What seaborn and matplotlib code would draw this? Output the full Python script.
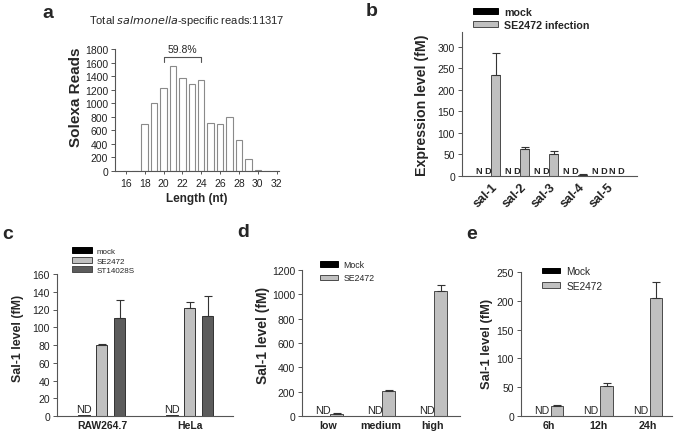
import matplotlib
matplotlib.use("Agg")
import matplotlib.pyplot as plt
from matplotlib.patches import Patch
import seaborn as sns
import pandas as pd
import numpy as np

sns.set_style("white")
plt.rcParams['font.family'] = ['Liberation Sans', 'DejaVu Sans']

# ---------------- data ----------------
a_lengths = [str(v) for v in range(16, 33)]
a_reads = [0, 0, 690, 1000, 1230, 1550, 1370, 1280, 1340, 710, 690, 800, 460, 180, 15, 0, 0]
a_ticks = ["16", "18", "20", "22", "24", "26", "28", "30", "32"]

b_genes = ["sal-1", "sal-2", "sal-3", "sal-4", "sal-5"]
b_mock = [0, 0, 0, 0, 0]
b_se = [235, 62, 52, 3, 0]
b_se_err = [50, 6, 5, 1.5, 0]

c_cells = ["RAW264.7", "HeLa"]
c_mock = [1, 1]
c_se = [80, 122]
c_se_err = [1, 6]
c_st = [110, 113]
c_st_err = [21, 22]

d_dose = ["low", "medium", "high"]
d_mock = [0, 0, 0]
d_se = [20, 205, 1030]
d_se_err = [5, 5, 50]

e_time = ["6h", "12h", "24h"]
e_mock = [0, 0, 0]
e_se = [18, 52, 205]
e_se_err = [1, 5, 28]

MOCK_C = "#000000"
SE_C = "#c0c0c0"
ST_C = "#5c5c5c"
EDGE = "#4a4a4a"
AXC = "#555555"

W, H = 675, 439
fig = plt.figure(figsize=(W / 100, H / 100), dpi=100)


def ax_px(l, t, r, b):
    return fig.add_axes([l / W, 1 - b / H, (r - l) / W, (b - t) / H])


def style(ax, ysize=7.5):
    for s in ["top", "right"]:
        ax.spines[s].set_visible(False)
    for s in ["left", "bottom"]:
        ax.spines[s].set_color(AXC)
        ax.spines[s].set_linewidth(0.8)
    ax.tick_params(axis="y", length=3, width=0.7, color=AXC, labelsize=ysize, pad=2,
                   left=True, labelcolor="#222222")
    ax.tick_params(axis="x", length=0, pad=3, labelcolor="#222222")
    ax.grid(False)


def ylabel_at(ax, text, fs, xpix, ypix, left_px, top_px, width_px, height_px):
    # xpix: right edge of the rotated label (in figure pixels); ypix: its centre
    ax.set_ylabel(text, fontsize=fs, fontweight="bold")
    ax.yaxis.set_label_coords((xpix - left_px) / width_px, 1 - (ypix - top_px) / height_px)


def add_err(ax, container, err, color="#333333"):
    xs = [p.get_x() + p.get_width() / 2 for p in container]
    ys = [p.get_height() for p in container]
    errs = np.array(err, dtype=float)
    mask = errs > 0
    ax.errorbar(np.array(xs)[mask], np.array(ys)[mask],
                yerr=[np.zeros(mask.sum()), errs[mask]],
                fmt="none", ecolor=color, elinewidth=0.8, capsize=3.2, capthick=0.8)


def fig_legend(labels, colors, x, y, fs, bold=False, hl=2.0, hh=0.6, ls=0.25, edge=EDGE):
    handles = [Patch(facecolor=c, edgecolor=edge if c != MOCK_C else MOCK_C, linewidth=0.7) for c in colors]
    leg = fig.legend(handles, labels, loc="upper left", bbox_to_anchor=(x / W, 1 - y / H),
                     frameon=False, borderpad=0, borderaxespad=0, handlelength=hl, handleheight=hh,
                     handletextpad=0.6, labelspacing=ls,
                     prop={"size": fs, "weight": "bold" if bold else "normal"})
    return leg


def panel_letter(ch, x, y):
    fig.text(x / W, 1 - y / H, ch, fontsize=14, fontweight="bold", ha="center", va="center")


# ---------------- panel a ----------------
axa = ax_px(115, 50, 279, 172)
dfa = pd.DataFrame({"Length": a_lengths, "Reads": a_reads})
sns.barplot(data=dfa, x="Length", y="Reads", order=a_lengths, color="white",
            edgecolor="#8a8a8a", linewidth=0.8, width=0.68, ax=axa)
style(axa)
axa.set_ylim(0, 1800)
axa.set_yticks(range(0, 1801, 200))
axa.set_xlim(-1.15, 16.25)
axa.set_xticks([a_lengths.index(t) for t in a_ticks])
axa.set_xticklabels(a_ticks, fontsize=7.5)
axa.tick_params(axis="x", length=2, width=0.7, color=AXC, bottom=True)
axa.set_xlabel("Length (nt)", fontsize=8.5, fontweight="bold", labelpad=3)
ylabel_at(axa, "Solexa Reads", 11, 83, 97, 115, 50, 164, 122)
i20, i24 = a_lengths.index("20"), a_lengths.index("24")
axa.plot([i20, i20, i24, i24], [1610, 1680, 1680, 1610], color="#555555", lw=0.8)
axa.text((i20 + i24) / 2, 1720, "59.8%", ha="center", va="bottom", fontsize=7.5)
fig.text(187 / W, 1 - 21 / H, "Total $\\it{salmonella}$-specific reads:11317",
         ha="center", va="center", fontsize=8)
panel_letter("a", 48, 13)

# ---------------- panel b ----------------
axb = ax_px(462, 33, 637, 177)
dfb = pd.DataFrame({"gene": b_genes * 2, "val": b_mock + b_se,
                    "grp": ["mock"] * 5 + ["SE2472 infection"] * 5})
sns.barplot(data=dfb, x="gene", y="val", hue="grp", palette=[MOCK_C, SE_C],
            edgecolor=EDGE, linewidth=0.7, width=0.62, legend=False, ax=axb)
style(axb)
axb.set_ylim(0, 334)
axb.set_yticks(range(0, 301, 50))
axb.set_xlim(-1.0, 5.03)
axb.set_xlabel("")
ylabel_at(axb, "Expression level (fM)", 10.2, 429, 105, 462, 33, 175, 144)
axb.set_xticks(range(len(b_genes)))
axb.set_xticklabels(b_genes, rotation=45, ha="right", rotation_mode="anchor",
                    fontsize=9, fontweight="bold")
add_err(axb, axb.containers[1], b_se_err)
for i, p in enumerate(axb.containers[0]):
    axb.text(i + 0.02, 3, "N D", ha="right", va="bottom", fontsize=6.6, fontweight="bold")
axb.text(len(b_genes) - 1 + 0.08, 3, "N D", ha="left", va="bottom", fontsize=6.6, fontweight="bold")
fig_legend(["mock", "SE2472 infection"], [MOCK_C, SE_C], 473, 8, 7.7, bold=True, hl=2.3, hh=0.4, ls=0.25)
panel_letter("b", 372, 12)

# ---------------- panel c ----------------
axc = ax_px(57, 275, 233, 417)
dfc = pd.DataFrame({"cell": c_cells * 3, "val": c_mock + c_se + c_st,
                    "grp": ["mock"] * 2 + ["SE2472"] * 2 + ["ST14028S"] * 2})
sns.barplot(data=dfc, x="cell", y="val", hue="grp", palette=[MOCK_C, SE_C, ST_C],
            edgecolor="#333333", linewidth=0.7, width=0.61, gap=0.38, legend=False, ax=axc)
style(axc)
axc.set_ylim(0, 160)
axc.set_yticks(range(0, 161, 20))
axc.set_xlim(-0.51, 1.49)
axc.set_xlabel("")
ylabel_at(axc, "Sal-1 level (fM)", 8.9, 24, 338, 57, 275, 176, 142)
axc.set_xticks(range(len(c_cells)))
axc.set_xticklabels(c_cells, fontsize=7.5, fontweight="bold")
add_err(axc, axc.containers[1], c_se_err)
add_err(axc, axc.containers[2], c_st_err)
for p in axc.containers[0]:
    axc.text(p.get_x() + p.get_width() / 2, 2.5, "ND", ha="center", va="bottom", fontsize=7.8)
fig_legend(["mock", "SE2472", "ST14028S"], [MOCK_C, SE_C, ST_C], 72, 248, 5.8, hl=2.5, hh=0.8, ls=0.22)
panel_letter("c", 8, 235)

# ---------------- panel d ----------------
axd = ax_px(302, 271, 460, 417)
dfd = pd.DataFrame({"dose": d_dose * 2, "val": d_mock + d_se,
                    "grp": ["Mock"] * 3 + ["SE2472"] * 3})
sns.barplot(data=dfd, x="dose", y="val", hue="grp", palette=[MOCK_C, SE_C],
            edgecolor=EDGE, linewidth=0.7, width=0.62, gap=0.22, legend=False, ax=axd)
style(axd)
axd.set_ylim(0, 1200)
axd.set_yticks(range(0, 1201, 200))
axd.set_xlim(-0.51, 2.53)
axd.set_xlabel("")
ylabel_at(axd, "Sal-1 level (fM)", 10, 270, 335, 302, 271, 158, 146)
axd.set_xticks(range(len(d_dose)))
axd.set_xticklabels(d_dose, fontsize=7.7, fontweight="bold")
add_err(axd, axd.containers[1], d_se_err)
for p in axd.containers[0]:
    axd.text(p.get_x() + p.get_width() / 2 + 0.04, 5, "ND", ha="center", va="bottom", fontsize=7.8)
fig_legend(["Mock", "SE2472"], [MOCK_C, SE_C], 320, 261, 6.3, hl=2.1, hh=0.55, ls=0.5)
panel_letter("d", 243, 233)

# ---------------- panel e ----------------
axe = ax_px(521, 273, 672, 417)
dfe = pd.DataFrame({"time": e_time * 2, "val": e_mock + e_se,
                    "grp": ["Mock"] * 3 + ["SE2472"] * 3})
sns.barplot(data=dfe, x="time", y="val", hue="grp", palette=[MOCK_C, SE_C],
            edgecolor=EDGE, linewidth=0.7, width=0.64, gap=0.22, legend=False, ax=axe)
style(axe)
axe.set_ylim(0, 250)
axe.set_yticks(range(0, 251, 50))
axe.set_xlim(-0.57, 2.48)
axe.set_xlabel("")
ylabel_at(axe, "Sal-1 level (fM)", 9.3, 493, 344, 521, 273, 151, 144)
axe.set_xticks(range(len(e_time)))
axe.set_xticklabels(e_time, fontsize=7.7, fontweight="bold")
add_err(axe, axe.containers[1], e_se_err)
for p in axe.containers[0]:
    axe.text(p.get_x() + p.get_width() / 2, 1.2, "ND", ha="center", va="bottom", fontsize=7.6)
fig_legend(["Mock", "SE2472"], [MOCK_C, SE_C], 542, 267, 7.3, hl=1.8, hh=0.5, ls=0.45)
panel_letter("e", 472, 235)

fig.savefig("out.png", dpi=100)
